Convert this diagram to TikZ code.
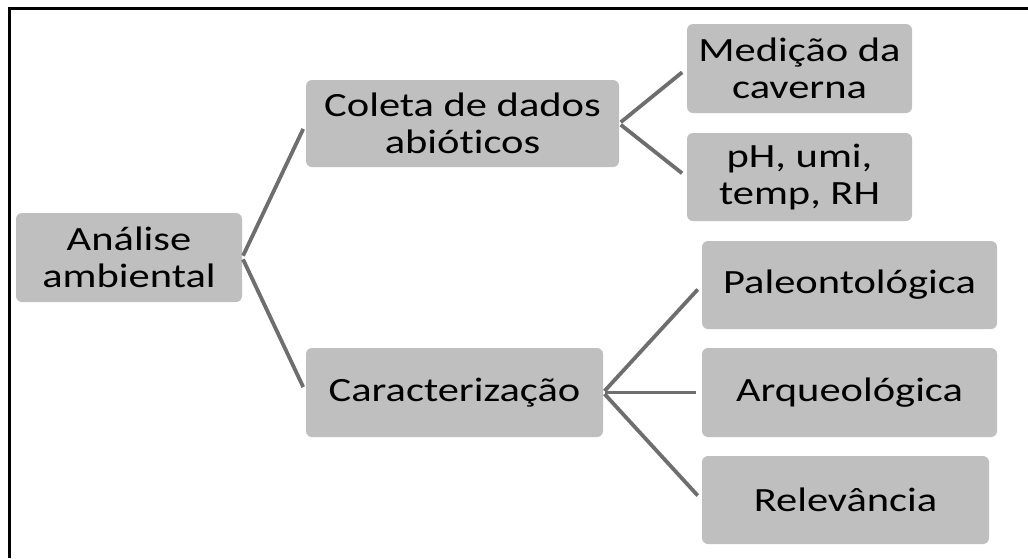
\documentclass[tikz,border=0pt]{standalone}
\usepackage{fontspec}
\setmainfont{Carlito}[FakeStretch=1.25, Ligatures=NoCommon]
\usepackage{tikz}
\usetikzlibrary{positioning}
\tikzstyle{topic}=[rectangle, rounded corners=6pt, fill=black!25, draw=none, inner sep=0pt, align=center, text=black, font=\fontsize{34}{37}\selectfont]
\tikzstyle{link}=[draw=black!57, line width=3.8pt, shorten <=2pt, shorten >=6pt]

\begin{document}
\begin{tikzpicture}[x=1pt, y=-1pt]
    \useasboundingbox (0,0) rectangle (1028,558);
    \draw[line width=3pt] (1028,8) -- (9,8) -- (9,558);

    \node[topic, minimum width=226pt, minimum height=89pt] (ana) at (129,257.5) {Análise\\ambiental};
    \node[topic, minimum width=313pt, minimum height=87pt] (col) at (462.5,123.5) {Coleta de dados\\abióticos};
    \node[topic, minimum width=297pt, minimum height=89pt] (car) at (454.5,392.5) {Caracterização};

    \node[topic, minimum width=225pt, minimum height=89pt] (med) at (799.5,68.5) {Medição da\\caverna};
    \node[topic, minimum width=225pt, minimum height=88pt] (phu) at (799.5,177) {pH, umi,\\temp, RH};

    \node[topic, minimum width=295pt, minimum height=88pt] (pal) at (849.5,285) {Paleontológica};
    \node[topic, minimum width=295pt, minimum height=89pt] (arq) at (849.5,392.5) {Arqueológica};
    \node[topic, minimum width=287pt, minimum height=88pt] (rel) at (845.5,500) {Relevância};

    \draw[link] (ana.east) -- (col.west);
    \draw[link] (ana.east) -- (car.west);
    \draw[link] (col.east) -- (med.west);
    \draw[link] (col.east) -- (phu.west);
    \draw[link] (car.east) -- (pal.west);
    \draw[link] (car.east) -- (arq.west);
    \draw[link] (car.east) -- (rel.west);
\end{tikzpicture}
\end{document}
